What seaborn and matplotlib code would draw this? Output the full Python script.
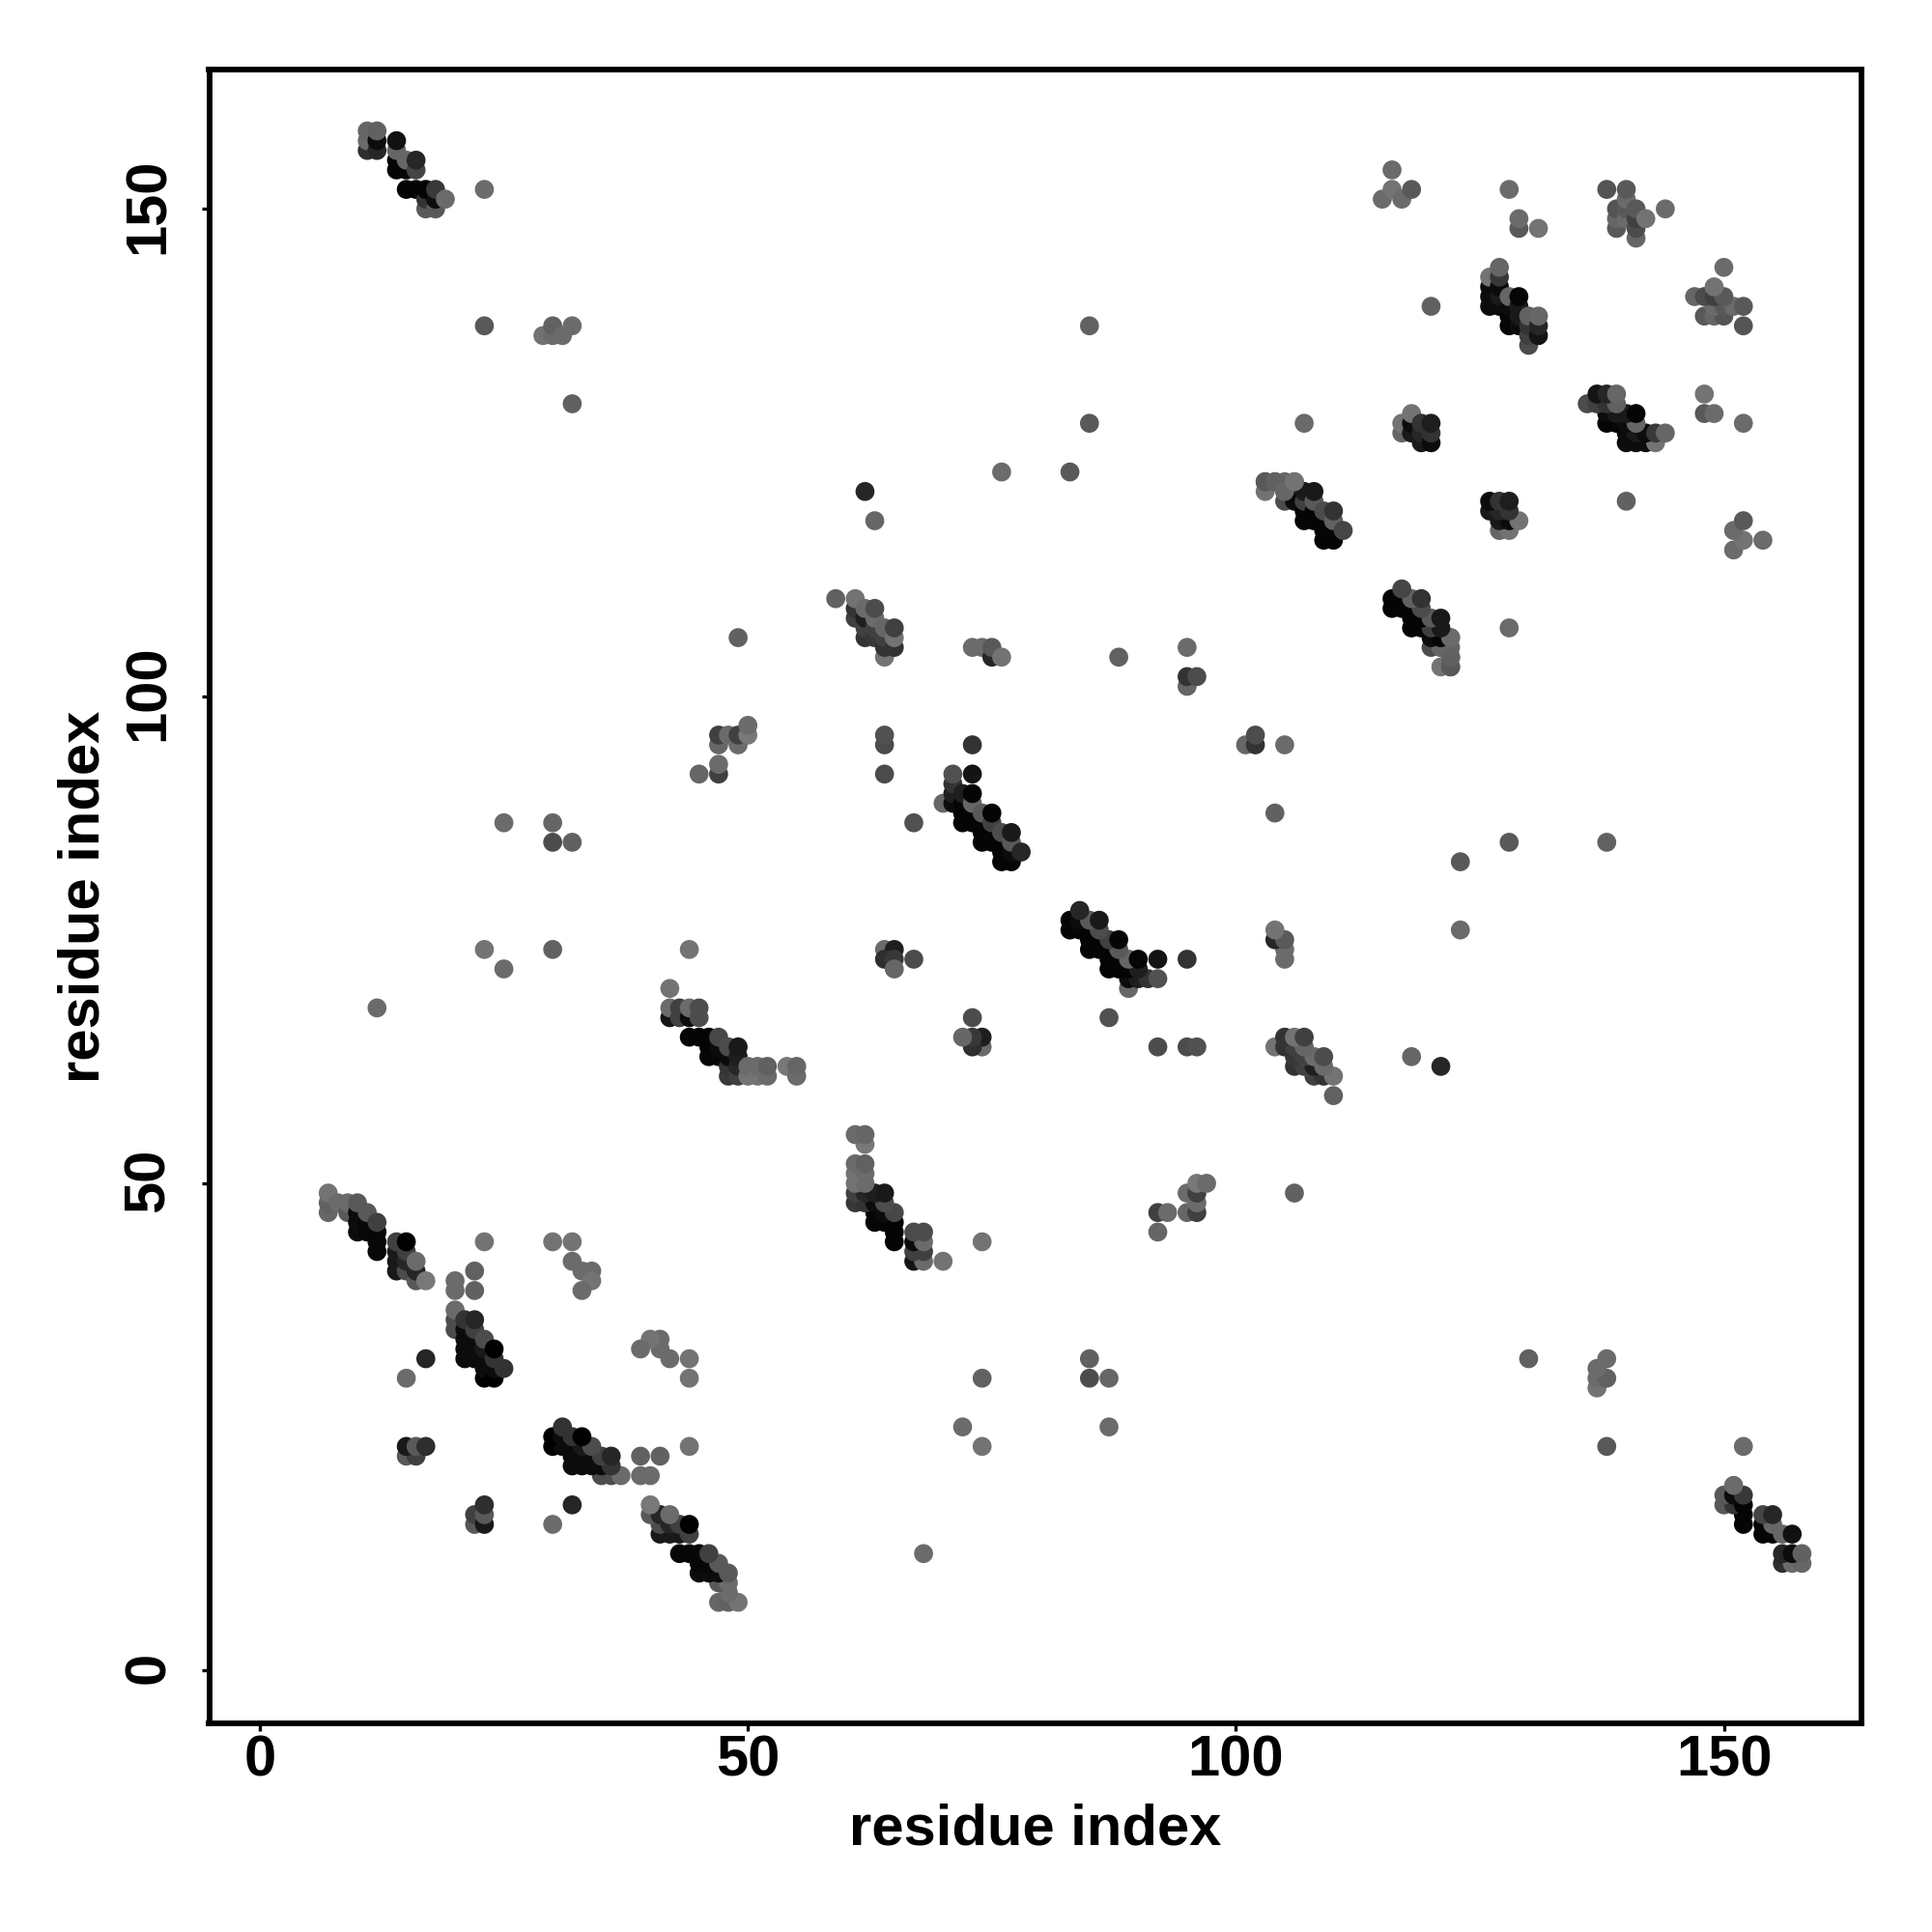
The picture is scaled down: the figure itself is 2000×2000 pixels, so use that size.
import pandas as pd
import matplotlib
matplotlib.use("Agg")
import matplotlib.pyplot as plt
from matplotlib.transforms import ScaledTranslation
import seaborn as sns

sns.set_style("white")
plt.rcParams["font.family"] = ["Liberation Sans", "DejaVu Sans"]
plt.rcParams["text.color"] = "black"
plt.rcParams["axes.labelcolor"] = "black"
plt.rcParams["xtick.labelcolor"] = "black"
plt.rcParams["ytick.labelcolor"] = "black"

# contacts, map is symmetric so only i < j is listed
# one line per group of contacts, same layout in the three lists
res_i = [
    7, 7, 7, 8, 9, 9, 10, 10, 10, 10, 11, 11, 11, 12, 12, 12, 12,
    14, 14, 14, 14, 15, 15, 15, 15, 16, 16, 16, 17,
    20, 20, 22, 22, 23, 30, 32, 32, 33, 34, 34, 33,
    20, 20, 20, 21, 21, 21, 21, 21, 22, 22, 22, 22, 22, 23, 23, 23, 23, 23, 24, 24, 24, 24, 25, 17, 15,
    15, 16, 15, 16, 17,
    44, 42,
    42, 42, 43, 43, 44, 44, 45, 45,
    44, 45, 46, 46, 46, 47, 47, 47, 48, 48, 48, 48, 49, 49, 49, 49,
    50, 50, 51, 51, 52, 52, 54, 55, 55,
    64, 65, 64, 65, 65, 67,
    12, 23, 25, 30, 25, 30, 32, 30, 23, 29, 30, 30, 31, 32, 32, 23,
    45, 47, 47, 47, 47, 48, 49, 49, 50, 50, 49,
    59, 61, 61, 61, 62, 62, 62, 62, 63, 63, 63, 63, 64, 64, 64, 64, 65, 65, 65,
    73, 74, 75, 75, 76, 88, 95, 95, 95, 96,
    64, 64, 64, 73, 73, 67, 62, 63, 76, 83, 85, 85,
    70, 71, 71, 71, 71, 72, 72, 72, 72, 73, 73, 73, 73, 74, 74, 74, 74, 75, 75, 75, 75,
    76, 76, 76, 76, 77, 77, 77, 77, 78,
    103, 103, 104, 105, 105, 105, 106, 106, 106, 107, 107, 107, 107, 108, 108, 108, 108,
    109, 109, 109, 109, 110, 110, 110, 110, 111, 103, 104, 121, 122,
    117, 117, 118, 118, 118, 119, 119, 119, 120, 120, 120, 107,
    126, 126, 126, 126, 127, 127, 127, 127, 127, 128, 128, 128, 128, 129, 129, 129, 129,
    130, 130, 130, 130, 131, 131, 131,
    115, 116, 116, 117, 118, 120, 128, 129, 129, 131,
    138, 139, 139, 139, 140, 140, 140, 140, 141, 141, 141, 141, 142, 144,
    11, 11, 11, 12, 12, 12, 14, 14, 14, 14, 15, 15, 15, 16, 16, 16, 17, 17, 17, 18, 18, 18, 19,
]
res_j = [
    47, 48, 49, 48, 47, 48, 45, 46, 47, 48, 45, 46, 47, 43, 44, 45, 46,
    41, 42, 43, 44, 41, 42, 43, 44, 40, 41, 42, 40,
    39, 40, 39, 41, 44, 44, 44, 42, 41, 41, 40, 39,
    35, 36, 37, 32, 33, 34, 35, 36, 32, 33, 34, 35, 36, 30, 31, 32, 33, 34, 30, 31, 32, 33, 31, 32, 30,
    22, 22, 23, 23, 23,
    74, 70,
    67, 68, 67, 68, 67, 68, 67, 68,
    65, 65, 63, 64, 65, 63, 64, 65, 61, 62, 63, 64, 61, 62, 63, 64,
    61, 62, 61, 62, 61, 62, 62, 61, 62,
    74, 74, 73, 73, 72, 73,
    68, 74, 72, 74, 87, 85, 85, 87, 138, 137, 137, 138, 137, 138, 130, 152,
    92, 92, 93, 95, 96, 96, 95, 96, 96, 97, 106,
    110, 108, 109, 110, 106, 107, 108, 109, 106, 107, 108, 109, 104, 105, 106, 107, 105, 106, 107,
    105, 105, 104, 105, 104, 104, 105, 101, 102, 102,
    95, 96, 92, 92, 95, 87, 121, 118, 123, 123, 128, 138,
    89, 89, 90, 91, 92, 87, 88, 89, 90, 87, 88, 89, 90, 85, 86, 87, 88, 85, 86, 87, 88,
    83, 84, 85, 86, 83, 84, 85, 86, 84,
    121, 122, 122, 120, 121, 122, 120, 121, 122, 118, 119, 120, 121, 118, 119, 120, 121,
    116, 117, 118, 119, 116, 117, 118, 119, 117, 122, 122, 105, 106,
    127, 128, 127, 128, 129, 126, 127, 128, 126, 127, 128, 128,
    140, 141, 142, 143, 140, 141, 142, 143, 144, 138, 139, 140, 141, 138, 139, 140, 141,
    136, 137, 138, 139, 137, 138, 139,
    151, 152, 154, 151, 152, 140, 152, 148, 149, 148,
    152, 148, 149, 150, 149, 150, 151, 152, 147, 148, 149, 150, 149, 150,
    156, 157, 158, 156, 157, 158, 154, 155, 156, 157, 152, 154, 155, 152, 154, 155, 150, 151, 152, 150, 151, 152, 151,
]
shade = [
    .40, .38, .45, .42, .35, .42, .05, .05, .05, .35, .03, .03, .35, .03, .03, .03, .25,
    .10, .10, .10, .25, .30, .15, .25, .00, .35, .15, .42, .47,
    .42, .42, .38, .38, .45, .45, .45, .42, .42, .42, .45, .42,
    .30, .30, .42, .05, .05, .05, .05, .20, .05, .05, .05, .25, .15, .00, .05, .05, .10, .30, .00, .05, .20, .00, .20, .15, .42,
    .35, .25, .10, .35, .18,
    .45, .45,
    .08, .42, .25, .25, .05, .42, .30, .30,
    .02, .02, .02, .02, .02, .03, .05, .28, .22, .20, .05, .30, .25, .15, .12, .10,
    .45, .42, .45, .42, .42, .38, .47, .42, .40,
    .42, .12, .18, .22, .40, .30,
    .42, .45, .42, .38, .42, .30, .38, .40, .35, .45, .42, .38, .42, .42, .38, .42,
    .40, .25, .42, .40, .25, .42, .42, .25, .47, .42, .38,
    .38, .25, .20, .45, .20, .25, .12, .42, .22, .25, .42, .30, .45, .20, .25, .40, .20, .45, .25,
    .42, .42, .15, .35, .45, .38, .42, .40, .20, .30,
    .30, .32, .30, .08, .20, .32, .15, .40, .42, .35, .35, .38,
    .40, .05, .12, .20, .32, .02, .02, .02, .12, .02, .02, .40, .02, .02, .02, .02, .35, .02, .02, .25, .02,
    .02, .02, .02, .30, .02, .05, .35, .10, .15,
    .45, .35, .38, .30, .40, .40, .05, .02, .42, .02, .02, .25, .10, .02, .02, .35, .10,
    .02, .02, .02, .30, .02, .02, .38, .20, .27, .35, .38, .40, .45,
    .40, .45, .10, .05, .45, .10, .15, .20, .05, .20, .12, .42,
    .05, .05, .05, .45, .05, .10, .05, .22, .40, .02, .02, .05, .40, .05, .10, .10, .02,
    .30, .25, .20, .38, .08, .15, .40,
    .42, .45, .42, .42, .35, .38, .42, .35, .42, .45,
    .33, .35, .40, .33, .42, .35, .42, .35, .40, .30, .25, .35, .45, .42,
    .18, .42, .40, .15, .05, .38, .02, .02, .40, .07, .02, .02, .40, .02, .27, .15, .35, .20, .02, .35, .05, .22, .42,
]
tick_values = [0, 50, 100, 150]
axis_label = "residue index"

df = pd.DataFrame({"x": res_i + res_j, "y": res_j + res_i, "shade": shade + shade})

fig = plt.figure(figsize=(10, 10), dpi=200)
ax = fig.add_axes([216.5 / 2000, 1 - 1784 / 2000, (1927 - 216.5) / 2000, (1784 - 72) / 2000])
sns.scatterplot(data=df, x="x", y="y", hue="shade", palette="gray", hue_norm=(0, 1),
                legend=False, s=50, linewidth=0, ax=ax)
ax.set_xlim(-5.2, 164.1)
ax.set_ylim(-5.42, 164.3)
ax.set_xticks(tick_values)
ax.set_yticks(tick_values)
ax.tick_params(axis="x", direction="out", length=3, width=1.2, color="black", bottom=True,
               labelsize=21.5, pad=1)
ax.tick_params(axis="y", direction="out", length=3, width=1.2, color="black", left=True,
               labelsize=21.5, pad=9.5)
for label in ax.get_xticklabels():
    label.set_fontweight("bold")
# rotated labels sit a little low otherwise
nudge = ScaledTranslation(0, 1.1 / 72, fig.dpi_scale_trans)
for label in ax.get_yticklabels():
    label.set_fontweight("bold")
    label.set_rotation(90)
    label.set_verticalalignment("center")
    label.set_transform(label.get_transform() + nudge)
for spine in ax.spines.values():
    spine.set_visible(True)
    spine.set_color("black")
    spine.set_linewidth(2.1)
ax.set_xlabel(axis_label, fontsize=21.5, fontweight="bold", labelpad=6)
ax.set_ylabel(axis_label, fontsize=21.5, fontweight="bold", labelpad=4.3)
plt.savefig("out.png", dpi=200)
